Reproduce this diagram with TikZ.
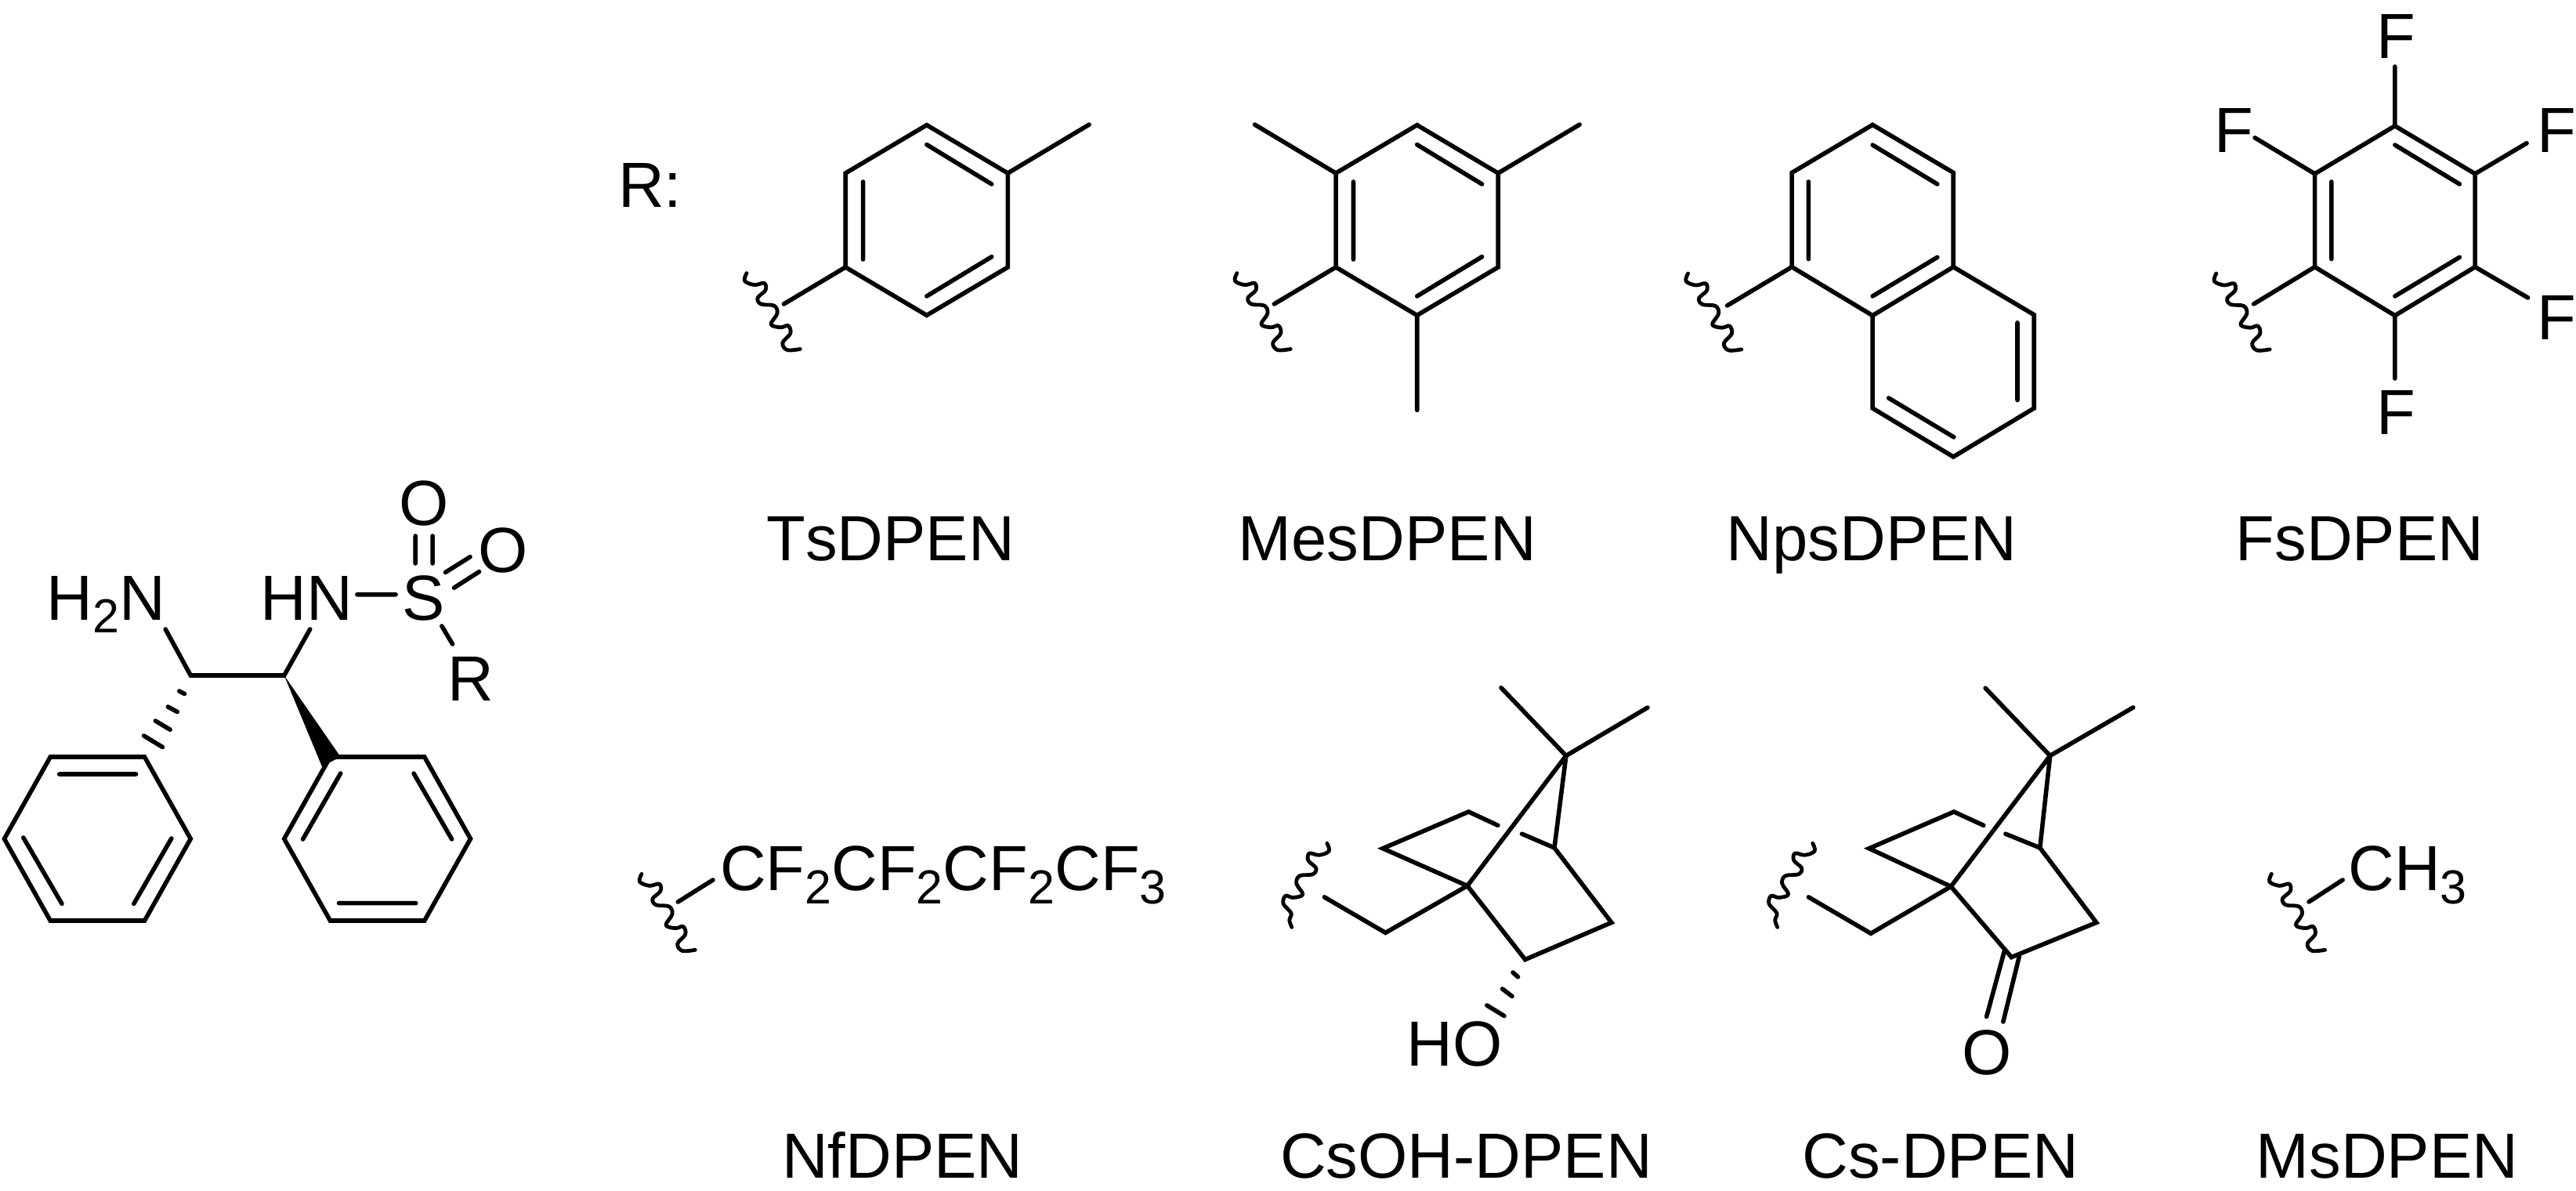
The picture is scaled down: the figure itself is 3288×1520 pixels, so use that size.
\documentclass[tikz,border=0pt]{standalone}
\usepackage{fontspec}
\setmainfont{Liberation Sans}[Kerning=Off]
\newcommand{\subn}[1]{\raisebox{-8.2pt}{\fontsize{30.5pt}{30.5pt}\selectfont #1}}
\newcommand{\wavehook}[2][]{\draw[wavl,shift={(#2)},#1] plot[smooth,tension=.6] coordinates {(0,0) (-2.5,9.9) (10,15) (22.5,12.7) (24,21.8) (14,31.6) (18.3,39.5) (35,41.5) (39,51.4) (31,65.2) (43.3,69.2) (53,67) (55.8,77) (45.8,89) (51.7,98) (68.3,96.9)};}
\newcommand{\waveplain}[2][]{\draw[wavl,shift={(#2)},#1] plot[smooth,tension=.6] coordinates {(0,0) (-2.5,9.9) (10,15) (22.5,12.7) (24,21.8) (14,31.6) (18.3,39.5) (35,41.5) (39,51.4) (31,65.2) (43.3,69.2) (53,67) (55.8,77) (45.8,89) (48,98) (45,107)};}
\tikzset{
  bond/.style={line width=2.8pt,line cap=round,line join=miter,black},
  wavl/.style={line width=2.4pt,line cap=round,line join=round,black},
  wedgefill/.style={fill=black,draw=none},
  atom/.style={inner sep=0pt,outer sep=0pt,anchor=base west,font=\fontsize{40.7pt}{40.7pt}\selectfont},
  catom/.style={inner sep=0pt,outer sep=0pt,anchor=base,font=\fontsize{40.7pt}{40.7pt}\selectfont},
  lab/.style={atom}
}
\begin{document}
\begin{tikzpicture}[x=0.5pt,y=-0.5pt]
\useasboundingbox (0,0) rectangle (3288,1520);
% ---------- DPEN core ----------
\begin{scope}[x=0.4974pt]
\path (64.6,966) coordinate (a1) (185.5,966) coordinate (a2) (244.6,1070.5) coordinate (a3)
      (185.5,1175) coordinate (a4) (64.6,1175) coordinate (a5) (5.5,1070.5) coordinate (a6);
\path (423.7,966) coordinate (b1) (544.6,966) coordinate (b2) (603.7,1070.5) coordinate (b3)
      (544.6,1175) coordinate (b4) (423.7,1175) coordinate (b5) (364.6,1070.5) coordinate (b6);
\path (244.6,862) coordinate (c1) (364.6,862) coordinate (c2)
      (212.3,803) coordinate (n1) (397.8,803) coordinate (n2)
      (458.3,758.7) coordinate (ns1) (507.7,758.7) coordinate (ns2)
      (533,684) coordinate (so1a) (533,719) coordinate (so1b) (555,684) coordinate (so2a) (555,719) coordinate (so2b)
      (571.4,730.5) coordinate (so3a) (603.2,710.7) coordinate (so3b) (582.5,750.2) coordinate (so4a) (614.8,729.6) coordinate (so4b)
      (566.8,799) coordinate (sr1) (580.6,822) coordinate (sr2)
      (413,978) coordinate (w1) (437,966) coordinate (w2);
\draw[bond] (a1)--(a2)--(a3)--(a4)--(a5)--(a6)--cycle;
\draw[bond] (b1)--(b2)--(b3)--(b4)--(b5)--(b6)--cycle;
\draw[bond] (n1)--(c1)--(c2)--(n2);
\draw[bond] (ns1)--(ns2) (so1a)--(so1b) (so2a)--(so2b) (so3a)--(so3b) (so4a)--(so4b) (sr1)--(sr2);
\fill[wedgefill] (c2)--(w1)--(w2)--cycle;
\path (76,988) coordinate (i1) (174.5,988) coordinate (i2) (30,1069) coordinate (i3) (79.4,1153.4) coordinate (i4)
      (220,1070) coordinate (i5) (171.7,1153.4) coordinate (i6)
      (437,987) coordinate (j1) (388.6,1071) coordinate (j2) (530.8,987) coordinate (j3) (579.7,1071) coordinate (j4)
      (434.8,1152.6) coordinate (j5) (533.5,1152.6) coordinate (j6);
\draw[bond] (i1)--(i2) (i3)--(i4) (i5)--(i6) (j1)--(j2) (j3)--(j4) (j5)--(j6);
\path (230,882) coordinate (h1a) (236.8,885.5) coordinate (h1b)
      (215.5,902) coordinate (h2a) (227.5,908.5) coordinate (h2b)
      (199.4,920) coordinate (h3a) (218.3,931.2) coordinate (h3b)
      (184.6,939) coordinate (h4a) (208.6,953.5) coordinate (h4b);
\draw[bond] (h1a)--(h1b) (h2a)--(h2b) (h3a)--(h3b) (h4a)--(h4b);
\node[atom] (tnh2) at (60,791.5) {H\subn{2}N};
\node[atom] (thn) at (334.6,791.5) {HN};
\node[catom] (ts) at (543.7,791.5) {S};
\node[catom] (to1) at (543.7,670.5) {O};
\node[catom] (to2) at (646,730.5) {O};
\node[atom] (tr) at (574.6,894.6) {R};
\end{scope}
\node[atom] (trlab) at (789,264) {R:};
\begin{scope}[x=0.4975pt,xshift=1.9pt]
% ---------- Ts ----------
\path (1185,159.6) coordinate (t1) (1289,221) coordinate (t2) (1289,341) coordinate (t3) (1185,402.4) coordinate (t4)
      (1080.8,341) coordinate (t5) (1080.8,221) coordinate (t6) (1393.3,159) coordinate (tm) (1001.7,388) coordinate (tb)
      (954,348.6) coordinate (tw1)
      (1103.3,232) coordinate (ti1) (1103.3,331) coordinate (ti2) (1185,184.6) coordinate (ti3) (1268.3,235) coordinate (ti4)
      (1268.3,327.7) coordinate (ti5) (1185,378) coordinate (ti6);
\draw[bond] (t1)--(t2)--(t3)--(t4)--(t5)--(t6)--cycle;
\draw[bond] (t2)--(tm) (t5)--(tb) (ti1)--(ti2) (ti3)--(ti4) (ti5)--(ti6);
\node[lab] (lts) at (979.5,715) {TsDPEN};
% ---------- Mes ----------
\path (1814,159.6) coordinate (m1) (1918,221) coordinate (m2) (1918,341) coordinate (m3) (1814,402.4) coordinate (m4)
      (1709.8,341) coordinate (m5) (1709.8,221) coordinate (m6) (2022.5,159) coordinate (mm1) (1605.8,159) coordinate (mm2)
      (1814,523.4) coordinate (mm3) (1630.7,388) coordinate (mb)
      (1583,348.6) coordinate (mw1)
      (1732.3,232) coordinate (mi1) (1732.3,331) coordinate (mi2) (1814,184.6) coordinate (mi3) (1897.3,235) coordinate (mi4)
      (1897.3,327.7) coordinate (mi5) (1814,378) coordinate (mi6);
\draw[bond] (m1)--(m2)--(m3)--(m4)--(m5)--(m6)--cycle;
\draw[bond] (m2)--(mm1) (m6)--(mm2) (m4)--(mm3) (m5)--(mb) (mi1)--(mi2) (mi3)--(mi4) (mi5)--(mi6);
\node[lab] (lmes) at (1585,715) {MesDPEN};
\end{scope}
\begin{scope}[x=0.4985pt,xshift=3.15pt]
% ---------- Nps ----------
\path (2391,159.3) coordinate (p1) (2494.4,220.4) coordinate (p2) (2494.4,340.7) coordinate (p3) (2391,402.7) coordinate (p4)
      (2287.7,340.7) coordinate (p5) (2287.7,220.4) coordinate (p6)
      (2597.7,401.7) coordinate (p7) (2597.7,521) coordinate (p8) (2494.4,583) coordinate (p9) (2391,521) coordinate (p10)
      (2204.9,390) coordinate (pb) (2154.7,349) coordinate (pw1)
      (2309,232) coordinate (pi1) (2309,330.6) coordinate (pi2) (2391,185) coordinate (pi3) (2473.9,235) coordinate (pi4)
      (2473.9,328.3) coordinate (pi5) (2391,378) coordinate (pi6) (2576.4,411.8) coordinate (pi7) (2576.4,510.6) coordinate (pi8)
      (2411.6,508) coordinate (pi9) (2495,557.9) coordinate (pi10);
\draw[bond] (p1)--(p2)--(p3)--(p4)--(p5)--(p6)--cycle;
\draw[bond] (p3)--(p7)--(p8)--(p9)--(p10)--(p4);
\draw[bond] (p5)--(pb) (pi1)--(pi2) (pi3)--(pi4) (pi5)--(pi6) (pi7)--(pi8) (pi9)--(pi10);
\node[lab] (lnps) at (2204,715) {NpsDPEN};
% ---------- Fs ----------
\path (3059.7,160.7) coordinate (f1) (3162.3,221.8) coordinate (f2) (3162.3,340.7) coordinate (f3) (3059.7,402.7) coordinate (f4)
      (2957.1,340.7) coordinate (f5) (2957.1,221.8) coordinate (f6)
      (3059.7,85) coordinate (ff1) (2880.4,175.8) coordinate (ff2) (3228.4,182.7) coordinate (ff3) (3230,380) coordinate (ff4)
      (3059.7,483) coordinate (ff5) (2878.9,388) coordinate (fb) (2831,349) coordinate (fw1)
      (2978.4,232) coordinate (fi1) (2978.4,330.6) coordinate (fi2) (3059.7,185) coordinate (fi3) (3142.5,235) coordinate (fi4)
      (3142.5,328.3) coordinate (fi5) (3059.7,378) coordinate (fi6);
\draw[bond] (f1)--(f2)--(f3)--(f4)--(f5)--(f6)--cycle;
\draw[bond] (f1)--(ff1) (f6)--(ff2) (f2)--(ff3) (f3)--(ff4) (f4)--(ff5) (f5)--(fb) (fi1)--(fi2) (fi3)--(fi4) (fi5)--(fi6);
\node[atom] (fa1) at (3036,74.4) {F};
\node[atom] (fa2) at (2828.8,194.2) {F};
\node[atom] (fa3) at (3241.4,194.2) {F};
\node[atom] (fa4) at (3241.4,433.9) {F};
\node[atom] (fa5) at (3036,554.2) {F};
\node[lab] (lfs) at (2856,715) {FsDPEN};
% ---------- Cs ----------
\path (2618.2,964.5) coordinate (k1) (2535.4,878.2) coordinate (k2) (2724.6,902.9) coordinate (k3) (2491.3,1131.4) coordinate (k4)
      (2386.5,1082.8) coordinate (k5) (2495.1,1036) coordinate (k6) (2533.1,1053.4) coordinate (k7) (2561.2,1064.2) coordinate (k8)
      (2605.3,1082) coordinate (k9) (2677.5,1177.4) coordinate (k10) (2568.8,1221.6) coordinate (k11)
      (2388.8,1191.3) coordinate (k12) (2309,1144.9) coordinate (k13)
      (2314.3,1076.3) coordinate (kw1)
      (2559.7,1213.8) coordinate (kd1) (2536.9,1297.5) coordinate (kd2) (2578.7,1220.7) coordinate (kd3) (2558.2,1304) coordinate (kd4);
\draw[bond] (k2)--(k1)--(k3) (k1)--(k4) (k1)--(k9);
\draw[bond] (k7)--(k6)--(k5)--(k4);
\draw[bond] (k8)--(k9)--(k10)--(k11)--(k4);
\draw[bond] (k4)--(k12)--(k13);
\draw[bond] (kd1)--(kd2) (kd3)--(kd4);
\node[catom] (tko) at (2537,1371) {O};
\node[lab] (lcs) at (2301,1503.5) {Cs-DPEN};
% ---------- Ms ----------
\path (2949.5,1151) coordinate (sb1) (2992.8,1123) coordinate (sb2) (2901.7,1115.4) coordinate (sw1);
\draw[bond] (sb1)--(sb2);
\node[atom] (tch) at (3000,1136.6) {CH\subn{3}};
\node[lab] (lms) at (2882,1503.5) {MsDPEN};
\end{scope}
% ---------- Nf ----------
\path (865.4,1151) coordinate (nb1) (910,1123) coordinate (nb2) (819,1115.4) coordinate (nw1);
\draw[bond] (nb1)--(nb2);
\node[atom] (nfc) at (919,1136.6) {CF\subn{2}CF\subn{2}CF\subn{2}CF\subn{3}};
\node[lab] (lnf) at (998,1503.5) {NfDPEN};
% ---------- CsOH ----------
\path (1998.9,964.5) coordinate (o1) (1916,877.7) coordinate (o2) (2103,903) coordinate (o3) (1872.9,1130.5) coordinate (o4)
      (1765,1082.8) coordinate (o5) (1874.5,1036) coordinate (o6) (1911.9,1053.4) coordinate (o7) (1942.5,1064.2) coordinate (o8)
      (1984,1082) coordinate (o9) (2056.9,1177.4) coordinate (o10) (1946.7,1224.6) coordinate (o11)
      (1768.4,1190.4) coordinate (o12) (1690.4,1144.9) coordinate (o13)
      (1693.8,1076.3) coordinate (ow1)
      (1931,1241) coordinate (oh1) (1937.5,1246.8) coordinate (oh2) (1917.6,1262) coordinate (oh3) (1930,1271.5) coordinate (oh4)
      (1897.8,1283) coordinate (oh5) (1920,1296.6) coordinate (oh6);
\draw[bond] (o2)--(o1)--(o3) (o1)--(o4) (o1)--(o9);
\draw[bond] (o7)--(o6)--(o5)--(o4);
\draw[bond] (o8)--(o9)--(o10)--(o11)--(o4);
\draw[bond] (o4)--(o12)--(o13);
\draw[bond] (oh1)--(oh2) (oh3)--(oh4) (oh5)--(oh6);
\node[atom] (tho) at (1795.6,1360.4) {HO};
\node[lab] (lcsoh) at (1634,1503.5) {CsOH-DPEN};
% ---------- wavy attachment marks ----------
\wavehook{tw1}
\wavehook{mw1}
\wavehook{pw1}
\wavehook{fw1}
\wavehook{nw1}
\wavehook{sw1}
\waveplain[xscale=-1]{ow1}
\waveplain[xscale=-1]{kw1}
\end{tikzpicture}
\end{document}
